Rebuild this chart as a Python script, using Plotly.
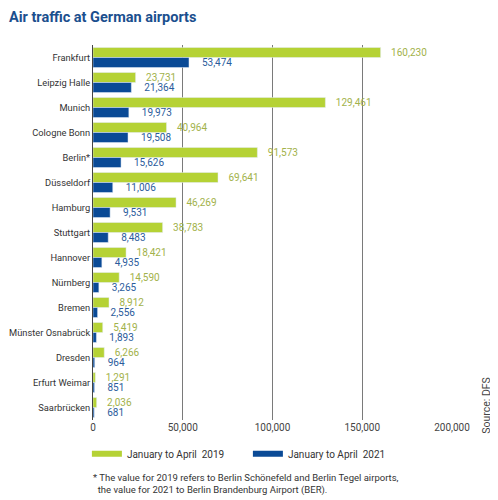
import plotly.graph_objects as go

airports = ["Frankfurt", "Leipzig Halle", "Munich", "Cologne Bonn", "Berlin*",
            "Düsseldorf", "Hamburg", "Stuttgart", "Hannover", "Nürnberg",
            "Bremen", "Münster Osnabrück", "Dresden", "Erfurt Weimar", "Saarbrücken"]
traffic_2019 = [160230, 23731, 129461, 40964, 91573, 69641, 46269, 38783,
                18421, 14590, 8912, 5419, 6266, 1291, 2036]
traffic_2021 = [53474, 21364, 19973, 19508, 15626, 11006, 9531, 8483,
                4935, 3265, 2556, 1893, 964, 851, 681]
x_ticks = [0, 50000, 100000, 150000, 200000]

green = "#b5d235"
blue = "#0a4a96"

fig = go.Figure()
fig.add_trace(go.Bar(y=airports, x=traffic_2019, orientation="h", marker_color=green,
                     name="January to April  2019", showlegend=False,
                     texttemplate="\u00a0" * 3 + "%{x:,}", textposition="outside",
                     constraintext="none", cliponaxis=False,
                     textfont=dict(color="#a2b24a", size=10)))
fig.add_trace(go.Bar(y=airports, x=traffic_2021, orientation="h", marker_color=blue,
                     name="January to April  2021", showlegend=False,
                     texttemplate="\u00a0" * 4 + "%{x:,}", textposition="outside",
                     constraintext="none", cliponaxis=False,
                     textfont=dict(color="#2b5c9c", size=10)))

# legend entries drawn as wide swatches
fig.add_trace(go.Scatter(x=[None], y=[None], mode="lines", line=dict(color=green, width=6),
                         name="January to April  2019"))
fig.add_trace(go.Scatter(x=[None], y=[None], mode="lines", line=dict(color=blue, width=6),
                         name="January to April  2021"))

# page body has an 8px margin, so the figure is drawn 8px smaller
fig.update_layout(
    width=490, height=492,
    margin=dict(l=85, r=46, t=37, b=80, autoexpand=False),
    paper_bgcolor="white", plot_bgcolor="white",
    font=dict(family="Roboto", size=10, color="#333333"),
    title=dict(text="<b>Air traffic at German airports</b>", x=0.002, xanchor="left",
               y=0.982, yanchor="middle", font=dict(size=14.5, color="#1b4f8e")),
    barmode="group", bargap=0.2, bargroupgap=0,
    legend=dict(orientation="h", x=-0.017, y=-0.09, xanchor="left", yanchor="middle",
                font=dict(size=10, color="#333333"), itemwidth=30, traceorder="normal",
                entrywidth=116),
    showlegend=True,
)
fig.update_xaxes(range=[0, 200000], tickvals=x_ticks, tickformat=",", automargin=False,
                 showgrid=True, gridcolor="#7a7a7a", gridwidth=1, zeroline=False,
                 showline=False, ticks="", tickfont=dict(size=10, color="#444444"))
fig.update_yaxes(autorange="reversed", showgrid=False, showline=True, linecolor="#444444",
                 linewidth=1, ticks="", ticklabelstandoff=0, automargin=False,
                 tickfont=dict(size=9.3, color="#333333"))

fig.add_annotation(text="Source: DFS", textangle=-90, xref="paper", yref="paper",
                   x=1.0975, y=0.038, xanchor="center", yanchor="middle",
                   showarrow=False, font=dict(size=10.5, color="#444444"))
fig.add_annotation(text="* The value for 2019 refers to Berlin Schönefeld and Berlin Tegel airports,"
                        "<br>\u00a0\u00a0the value for 2021 to Berlin Brandenburg Airport (BER).",
                   xref="paper", yref="paper", x=-0.005, y=-0.133, xanchor="left", yanchor="top",
                   align="left", showarrow=False, font=dict(size=9.5, color="#333333"))

fig.write_html("out.html")
